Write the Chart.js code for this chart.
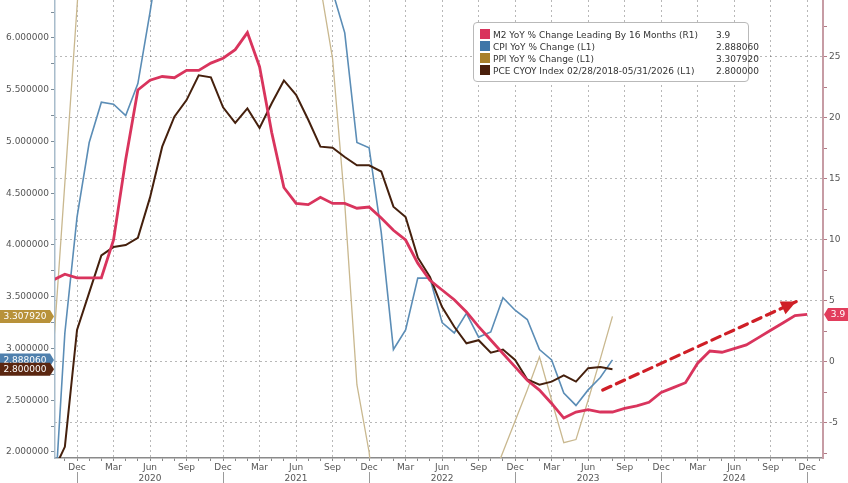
<!DOCTYPE html>
<html>
<head>
<meta charset="utf-8">
<script src="https://cdn.jsdelivr.net/npm/chart.js@4.4.0/dist/chart.umd.min.js"></script>
<style>
  html, body { margin: 0; padding: 0; background: #fff; }
  #wrap { position: relative; width: 848px; height: 483px; }
  #legend {
    position: absolute; left: 473px; top: 22px; width: 276px; height: 60px;
    box-sizing: border-box; border: 1px solid #b9b9b9; border-radius: 4px;
    background: #fff; font: 9px 'DejaVu Sans'; color: #333; padding: 6px 0 0 6px;
  }
  .row { height: 12px; line-height: 12px; position: relative; white-space: nowrap; }
  .sw { display: inline-block; width: 10px; height: 10px; vertical-align: -1px; margin-right: 3px; }
  .val { position: absolute; left: 236px; top: 0; }
</style>
</head>
<body>
<div id="wrap">
  <canvas id="chart" width="848" height="483"></canvas>
  <div id="legend"></div>
</div>
<script>
/*------------------------ DATA ---------------------------------*/

// monthly points, first one is Oct 2019 (index -2, Dec 2019 = 0)
const firstMonth = -2
const monthNames = ['Jan', 'Feb', 'Mar', 'Apr', 'May', 'Jun', 'Jul', 'Aug', 'Sep', 'Oct', 'Nov', 'Dec']

const m2Yoy = [6.7, 7.2, 6.9, 6.9, 6.9, 10.0, 16.6, 22.3, 23.1, 23.4, 23.3, 23.9, 23.9, 24.5, 24.9,
    25.6, 27.0, 24.2, 18.8, 14.3, 13.0, 12.9, 13.5, 13.0, 13.0, 12.6, 12.7, 11.8, 10.8, 10.0, 8.1,
    6.7, 5.9, 5.1, 4.1, 2.9, 1.8, 0.7, -0.4, -1.5, -2.3, -3.4, -4.6, -4.1, -3.9, -4.1, -4.1, -3.8,
    -3.6, -3.3, -2.5, -2.1, -1.7, -0.1, 0.9, 0.8, 1.1, 1.4, 2.0, 2.6, 3.2, 3.8, 3.9]

const cpiYoy = [1.2, 3.15, 4.27, 4.99, 5.38, 5.36, 5.25, 5.56, 6.25, 7.0, 7.6, 8.0, 8.3, 8.5, 8.6,
    8.6, 8.5, 8.3, 8.0, 7.7, 7.4, 7.1, 6.8, 6.45, 6.05, 4.99, 4.94, 4.12, 2.99, 3.18, 3.68, 3.68,
    3.25, 3.15, 3.34, 3.11, 3.16, 3.49, 3.37, 3.28, 2.99, 2.89, 2.57, 2.45, 2.60, 2.72, 2.89]

const ppiYoy = [2.9, 4.6, 6.3, 8.0, 9.0, 9.5, 9.8, 10.0, 10.0, 10.0, 9.9, 9.8, 9.6, 9.4, 9.1,
    8.8, 8.4, 8.0, 7.6, 7.3, 7.0, 6.8, 6.5, 5.8, 4.4, 2.65, 2.0, 0.9, 0.6, 0.5, 0.5, 0.6,
    0.8, 1.0, 1.2, 1.4, 1.7, 2.0, 2.3, 2.6, 2.92, 2.5, 2.09, 2.12, 2.5, 2.9, 3.31]

const pceYoy = [1.8, 2.05, 3.18, 3.54, 3.90, 3.98, 4.00, 4.07, 4.46, 4.95, 5.24, 5.40, 5.64, 5.62, 5.33,
    5.18, 5.32, 5.13, 5.37, 5.59, 5.45, 5.21, 4.95, 4.94, 4.85, 4.77, 4.77, 4.71, 4.37, 4.27, 3.88, 3.69,
    3.40, 3.21, 3.05, 3.08, 2.96, 2.99, 2.89, 2.70, 2.65, 2.68, 2.74, 2.68, 2.81, 2.82, 2.80]

// dashed trend arrow (month index, right axis value)
const arrowX = [43.2, 59.1]
const arrowY = [-2.3, 4.95]

const legendNames = ['M2 YoY % Change Leading By 16 Months (R1)', 'CPI YoY % Change (L1)',
    'PPI YoY % Change (L1)', 'PCE CYOY Index 02/28/2018-05/31/2026 (L1)']
const legendValues = ['3.9', '2.888060', '3.307920', '2.800000']
const colors = ['#d9345d', '#5b8db6', '#c9b88f', '#45200d']
const tagColors = ['#e23d5c', '#4f80ad', '#b8923a', '#5a2610']

const leftTicks = [2.0, 2.5, 3.0, 3.5, 4.0, 4.5, 5.0, 5.5, 6.0]
const rightTicks = [-5, 0, 5, 10, 15, 20, 25]

/*------------------------ HELPERS ---------------------------------*/

const toPoints = (arr) => arr.map((v, i) => ({ x: firstMonth + i, y: v }))

const noPad = (s) => { s.paddingLeft = 0; s.paddingRight = 0; s.paddingTop = 0; s.paddingBottom = 0 }

function drawTag(ctx, x0, x1, y, pointLeft, color, text) {
    const h = 13
    ctx.save()
    ctx.fillStyle = color
    ctx.beginPath()
    if (pointLeft) {
        ctx.moveTo(x0, y)
        ctx.lineTo(x0 + 4, y - h / 2)
        ctx.lineTo(x1, y - h / 2)
        ctx.lineTo(x1, y + h / 2)
        ctx.lineTo(x0 + 4, y + h / 2)
    } else {
        ctx.moveTo(x0, y - h / 2)
        ctx.lineTo(x1 - 4, y - h / 2)
        ctx.lineTo(x1, y)
        ctx.lineTo(x1 - 4, y + h / 2)
        ctx.lineTo(x0, y + h / 2)
    }
    ctx.closePath()
    ctx.fill()
    ctx.fillStyle = '#fff'
    ctx.font = '9px DejaVu Sans'
    ctx.textAlign = 'center'
    ctx.textBaseline = 'middle'
    ctx.fillText(text, pointLeft ? (x0 + 4 + x1) / 2 : (x0 + x1 - 4) / 2, y + 0.5)
    ctx.restore()
}

/*------------------------ PLUGINS ---------------------------------*/

const extras = {
    id: 'extras',
    afterDatasetsDraw(chart) {
        // arrow head at end of the dashed trend line
        const ctx = chart.ctx
        const xs = chart.scales.x, yr = chart.scales.y1
        const x0 = xs.getPixelForValue(arrowX[0]), y0 = yr.getPixelForValue(arrowY[0])
        const x1 = xs.getPixelForValue(arrowX[1]), y1 = yr.getPixelForValue(arrowY[1])
        const a = Math.atan2(y1 - y0, x1 - x0)
        ctx.save()
        ctx.translate(x1, y1)
        ctx.rotate(a)
        ctx.fillStyle = '#cf1f27'
        ctx.beginPath()
        ctx.moveTo(0, 0)
        ctx.lineTo(-15, -7)
        ctx.lineTo(-15, 7)
        ctx.closePath()
        ctx.fill()
        ctx.restore()
    },
    afterDraw(chart) {
        const ctx = chart.ctx
        const area = chart.chartArea
        const xs = chart.scales.x, yl = chart.scales.y, yr = chart.scales.y1

        // year separators below the axis
        ctx.save()
        ctx.strokeStyle = '#9a9a9a'
        ctx.lineWidth = 1
        for (let m = 0; m <= 60; m += 12) {
            const px = Math.round(xs.getPixelForValue(m)) + 0.5
            ctx.beginPath()
            ctx.moveTo(px, area.bottom + 14)
            ctx.lineTo(px, chart.height)
            ctx.stroke()
        }
        ctx.restore()

        // last value tags
        const lastOf = (arr) => arr[arr.length - 1]
        drawTag(ctx, 0, area.left - 1, yl.getPixelForValue(lastOf(cpiYoy)), false, tagColors[1], legendValues[1])
        drawTag(ctx, 0, area.left - 1, yl.getPixelForValue(lastOf(pceYoy)), false, tagColors[3], legendValues[3])
        drawTag(ctx, 0, area.left - 1, yl.getPixelForValue(lastOf(ppiYoy)), false, tagColors[2], legendValues[2])
        drawTag(ctx, area.right + 1, chart.width, yr.getPixelForValue(lastOf(m2Yoy)), true, tagColors[0], legendValues[0])
    }
}

/*------------------------ CHART ---------------------------------*/

Chart.defaults.font.family = 'DejaVu Sans'
Chart.defaults.font.size = 9
Chart.defaults.color = '#555'

const chartCtx = document.querySelector('#chart').getContext('2d')

const chartData = {
    datasets: [
        {
            label: 'arrow',
            data: arrowX.map((x, i) => ({ x: x, y: arrowY[i] })),
            yAxisID: 'y1',
            borderColor: '#cf1f27',
            borderWidth: 3.2,
            borderDash: [9, 6],
            borderCapStyle: 'round',
            pointRadius: 0
        },
        {
            label: legendNames[0],
            data: toPoints(m2Yoy),
            yAxisID: 'y1',
            borderColor: colors[0],
            borderWidth: 2.8,
            pointRadius: 0
        },
        {
            label: legendNames[3],
            data: toPoints(pceYoy),
            yAxisID: 'y',
            borderColor: colors[3],
            borderWidth: 2,
            pointRadius: 0
        },
        {
            label: legendNames[1],
            data: toPoints(cpiYoy),
            yAxisID: 'y',
            borderColor: colors[1],
            borderWidth: 1.6,
            pointRadius: 0
        },
        {
            label: legendNames[2],
            data: toPoints(ppiYoy),
            yAxisID: 'y',
            borderColor: colors[2],
            borderWidth: 1.3,
            pointRadius: 0
        }
    ]
}

const chartOptions = {
    type: 'line',
    data: chartData,
    options: {
        responsive: false,
        animation: false,
        devicePixelRatio: 1,
        layout: { padding: 0 },
        elements: { line: { tension: 0 } },
        plugins: {
            legend: { display: false },
            tooltip: { enabled: false }
        },
        scales: {
            x: {
                type: 'linear',
                min: -1.81,
                max: 61.3,
                afterBuildTicks: (s) => {
                    const t = []
                    for (let m = -1; m <= 61; m++) t.push({ value: m })
                    s.ticks = t
                },
                afterFit: (s) => { s.height = 25; noPad(s) },
                ticks: {
                    autoSkip: false,
                    maxRotation: 0,
                    padding: 1,
                    color: '#555',
                    callback: (v) => {
                        if (v % 3 !== 0) return ''
                        const mm = ((11 + v) % 12 + 12) % 12
                        const yr = 2019 + Math.floor((11 + v) / 12)
                        return mm === 5 ? [monthNames[mm], String(yr)] : monthNames[mm]
                    }
                },
                grid: {
                    color: (c) => (c.tick && c.tick.value % 3 === 0) ? 'rgba(0,0,0,0.28)' : 'rgba(0,0,0,0)',
                    tickColor: '#888',
                    tickLength: 3
                },
                border: { display: true, color: '#8a8a8a', width: 1.5, dash: [2, 3] }
            },
            y: {
                position: 'left',
                min: 1.942,
                max: 6.367,
                afterBuildTicks: (s) => {
                    const t = []
                    for (let v = 2.0; v <= 6.26; v += 0.25) t.push({ value: Math.round(v * 100) / 100 })
                    s.ticks = t
                },
                afterFit: (s) => { s.width = 55; noPad(s) },
                ticks: {
                    padding: 2,
                    color: '#555',
                    callback: (v) => leftTicks.includes(v) ? v.toFixed(6) : ''
                },
                grid: {
                    drawOnChartArea: false,
                    tickColor: '#7d8d99',
                    tickLength: 4
                },
                border: { display: true, color: '#a8bccb', width: 1.5 }
            },
            y1: {
                position: 'right',
                min: -7.87,
                max: 29.67,
                afterBuildTicks: (s) => {
                    const t = []
                    for (let v = -7.5; v <= 27.5; v += 2.5) t.push({ value: v })
                    s.ticks = t
                },
                afterFit: (s) => { s.width = 25; noPad(s) },
                ticks: {
                    padding: 2,
                    color: '#555',
                    callback: (v) => rightTicks.includes(v) ? String(v) : ''
                },
                grid: {
                    color: (c) => (c.tick && rightTicks.includes(c.tick.value)) ? 'rgba(0,0,0,0.28)' : 'rgba(0,0,0,0)',
                    tickColor: '#b07a85',
                    tickLength: 4
                },
                border: { display: true, color: '#c79ca4', width: 2, dash: [2, 3] }
            }
        }
    },
    plugins: [extras]
}

const mainChart = new Chart(chartCtx, chartOptions)

/*------------------------ LEGEND ---------------------------------*/

const legendEl = document.querySelector('#legend')
const legendOrder = [0, 1, 2, 3]
const legendSwatch = ['#d9345d', '#3f76a8', '#a8802c', '#4a200c']
legendOrder.forEach((i) => {
    const row = document.createElement('div')
    row.className = 'row'
    row.innerHTML = '<span class="sw" style="background:' + legendSwatch[i] + '"></span>' +
        legendNames[i] + '<span class="val">' + legendValues[i] + '</span>'
    legendEl.appendChild(row)
})
</script>
</body>
</html>
